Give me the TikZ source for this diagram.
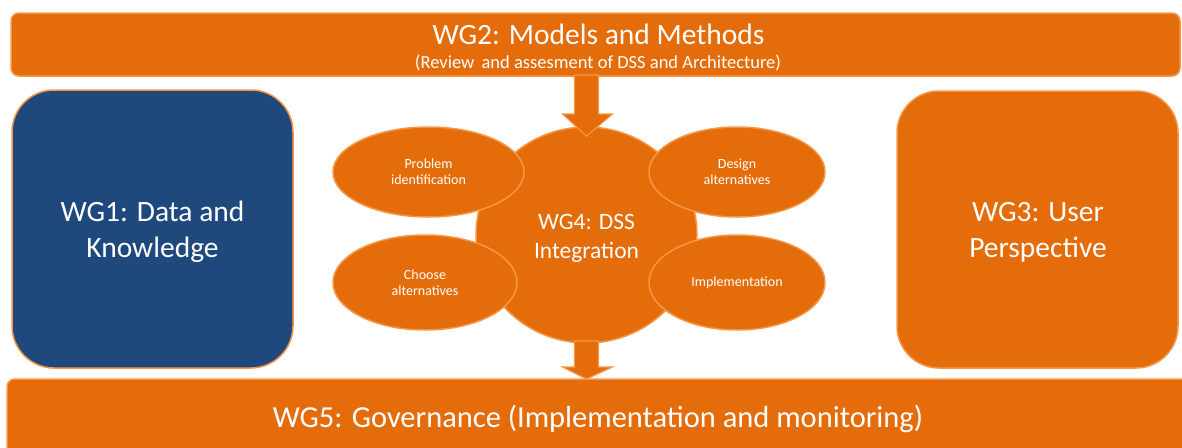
\documentclass[tikz,border=0pt]{standalone}
\usepackage{fontspec}
\setmainfont{Carlito}
\usetikzlibrary{shapes.geometric,calc}
\definecolor{wgorange}{RGB}{228,108,10}
\definecolor{wgedge}{RGB}{247,150,70}
\definecolor{wgblue}{RGB}{31,73,125}
\tikzset{
  bar/.style={fill=wgorange, draw=wgedge, line width=1.5pt, rounded corners=8pt},
  bigbox/.style={fill=wgorange, draw=wgedge, line width=1.5pt, rounded corners=42pt},
  stage/.style={ellipse, fill=wgorange, draw=wgedge, line width=1.5pt, inner sep=0pt,
    text=white, font=\fontsize{14}{16}\selectfont, align=center},
  blockarrow/.style={fill=wgorange, draw=wgedge, line width=1.2pt, line join=miter},
  label/.style={text=white, align=center, inner sep=0pt},
  bigtext/.style={label, font=\fontsize{29.5}{36}\selectfont}
}
\begin{document}
\begin{tikzpicture}[x=1pt, y=-1pt]
\useasboundingbox (0,0) rectangle (1182,447);

% top bar: models and methods
\path[bar] (11,13) rectangle (1180,76);
\node[bigtext, anchor=base] (wg2) at (598.5,44) {WG2: Models and Methods};
\node[label, anchor=base, font=\fontsize{18.5}{20}\selectfont] (wg2sub) at (598,68) {(Review\, and assesment of DSS and Architecture)};

% side boxes
\path[bigbox, fill=wgblue] (12,90) rectangle (293,368);
\node[bigtext] (wg1) at (152.5,232) {WG1: Data and\\Knowledge};
\path[bigbox] (897,91) rectangle (1178,368);
\node[bigtext] (wg3) at (1038,232) {WG3: User\\Perspective};

% bottom bar: governance
\path[bar] (7,379) rectangle (1200,470);
\node[label, font=\fontsize{30.5}{34}\selectfont] (wg5) at (598,419) {WG5: Governance (Implementation and monitoring)};

% central circle
\node[ellipse, fill=wgorange, draw=wgedge, line width=1.5pt, minimum width=221pt, minimum height=216pt, inner sep=0pt] (wg4) at (586.5,235) {};
\node[label, font=\fontsize{23.5}{29}\selectfont] (wg4t) at (586.5,238) {WG4: DSS\\Integration};

% decision stages
\node[stage, minimum width=191pt, minimum height=90pt] (prob) at (428.5,172) {Problem\\identification};
\node[stage, minimum width=176pt, minimum height=90pt] (design) at (737,172) {Design\\alternatives};
\node[stage, minimum width=184pt, minimum height=95pt] (choose) at (425,282.5) {Choose\\alternatives};
\node[stage, minimum width=176pt, minimum height=95pt] (impl) at (737,282.5) {Implementation};

% block arrows: wg2 -> wg4 -> wg5
\coordinate (topstart) at (586.5,75);
\path[blockarrow] ($(topstart)+(-12,0)$) -- ($(topstart)+(12,0)$) -- ($(topstart)+(12,39)$) -- ($(topstart)+(26,39)$)
  -- ($(wg4.north)+(0,10)$) -- ($(topstart)+(-24,39)$) -- ($(topstart)+(-12,39)$) -- cycle;
\coordinate (botstart) at (586.5,341);
\path[blockarrow] ($(botstart)+(-12,0)$) -- ($(botstart)+(12,0)$) -- ($(botstart)+(12,26)$) -- ($(botstart)+(26,26)$)
  -- (586.5,379) -- ($(botstart)+(-24,26)$) -- ($(botstart)+(-12,26)$) -- cycle;
\end{tikzpicture}
\end{document}
